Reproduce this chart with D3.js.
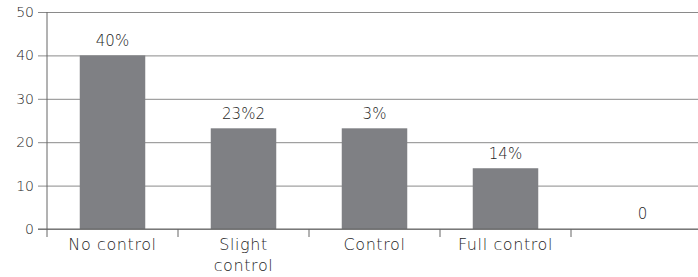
<!DOCTYPE html>
<html lang="en">
<head>
<meta charset="utf-8">
<script src="https://d3js.org/d3.v7.min.js"></script>
<style>
  body { margin: 0; background: #fff; }
  text { font-family: "DejaVu Sans", sans-serif; fill: #1e1e1e; }
</style>
</head>
<body>
<svg id="chart" width="698" height="277"></svg>
<script>
// chart data
const categories = ["No control", "Slight control", "Control", "Full control", ""];
const values = [40, 23.2, 23.2, 14, 0];
const valueLabels = ["40%", "23%2", "3%", "14%", "0"];
const yTicks = [0, 10, 20, 30, 40, 50];

const svg = d3.select("#chart");
const mLeft = 47, mRight = 702, mTop = 12, mBottom = 229;

const x = d3.scaleBand().domain(d3.range(categories.length))
  .range([mLeft, mRight]).paddingInner(0.5).paddingOuter(0.25);
const y = d3.scaleLinear().domain([0, 50]).range([mBottom, mTop]);

// horizontal gridlines + y ticks
const yAxis = d3.axisLeft(y).tickValues(yTicks).tickSize(-(mRight - mLeft)).tickSizeOuter(0).tickPadding(13);
const gy = svg.append("g").attr("transform", `translate(${mLeft},0)`).call(yAxis);
gy.select(".domain").remove();
gy.selectAll(".tick line").attr("stroke", "#8a8a8a").attr("x1", -9);
gy.selectAll(".tick text").style("font-size", "14px").style("font-family", "DejaVu Sans").style("font-weight", 300).attr("fill", "#1e1e1e");

// y axis line, extended a bit below zero
svg.append("line").attr("x1", mLeft).attr("x2", mLeft).attr("y1", mTop).attr("y2", mBottom + 8)
  .attr("stroke", "#666");

// category boundary ticks
const step = x.step();
svg.selectAll(".cat-tick").data(d3.range(1, categories.length))
  .enter().append("line")
  .attr("x1", i => x(i) - (step - x.bandwidth()) / 2)
  .attr("x2", i => x(i) - (step - x.bandwidth()) / 2)
  .attr("y1", mBottom).attr("y2", mBottom + 8)
  .attr("stroke", "#666");

// bars
svg.selectAll(".bar").data(values).enter().append("rect")
  .attr("x", (d, i) => x(i))
  .attr("width", x.bandwidth())
  .attr("y", d => y(d))
  .attr("height", d => mBottom - y(d))
  .attr("fill", "#7f8084");

// baseline on top
svg.append("line").attr("x1", mLeft - 9).attr("x2", mRight).attr("y1", mBottom).attr("y2", mBottom)
  .attr("stroke", "#666");

// value labels
svg.selectAll(".vlab").data(valueLabels).enter().append("text")
  .attr("x", (d, i) => x(i) + x.bandwidth() / 2 + (values[i] === 0 ? 6 : 0))
  .attr("y", (d, i) => y(values[i]) - (values[i] === 0 ? 10 : 9))
  .attr("text-anchor", "middle")
  .style("font-size", "15px")
  .style("font-weight", 300)
  .text(d => d);

// category labels, wrapped
const maxW = 103, catFont = "16px", catSpacing = "0.6px";
categories.forEach((c, i) => {
  const t = svg.append("text")
    .attr("x", x(i) + x.bandwidth() / 2)
    .attr("y", mBottom + 21)
    .attr("text-anchor", "middle")
    .style("font-size", catFont)
    .style("font-weight", 300)
    .style("letter-spacing", catSpacing);
  const words = c.split(" ");
  let line = [], lines = [];
  words.forEach(w => {
    line.push(w);
    const probe = svg.append("text").style("font-size", catFont).style("letter-spacing", catSpacing)
      .style("font-weight", 300).text(line.join(" "));
    if (probe.node().getComputedTextLength() > maxW && line.length > 1) {
      line.pop(); lines.push(line.join(" ")); line = [w];
    }
    probe.remove();
  });
  lines.push(line.join(" "));
  lines.forEach((l, k) => t.append("tspan").attr("x", x(i) + x.bandwidth() / 2).attr("dy", k ? 21 : 0).text(l));
});
</script>
</body>
</html>
